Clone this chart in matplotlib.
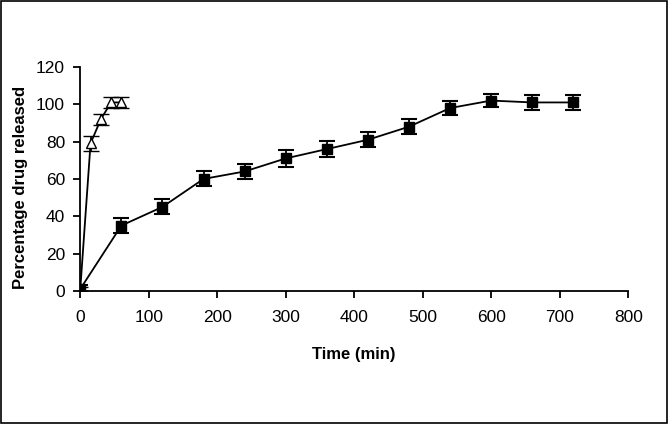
import numpy as np
import matplotlib
matplotlib.use("Agg")
import matplotlib.pyplot as plt
from matplotlib.patches import Rectangle

# square series (slow release)
time_sq = [0, 60, 120, 180, 240, 300, 360, 420, 480, 540, 600, 660, 720]
release_sq = [1, 35, 45, 60, 64, 71, 76, 81, 88, 98, 102, 101, 101]
err_sq = [2, 4, 4, 4, 4, 4.5, 4.5, 4, 4, 4, 3.5, 4, 4]

# triangle series (fast release)
time_tr = [0, 15, 30, 45, 60]
release_tr = [1, 79, 92, 101, 101]
err_tr = [1, 4, 3, 3, 3]

plt.rcParams['font.family'] = ['Liberation Sans', 'DejaVu Sans']

fig = plt.figure(figsize=(6.69, 4.24), dpi=100)
ax = fig.add_axes([0.12, 0.314, 0.819, 0.528])

ax.errorbar(time_tr, release_tr, yerr=err_tr, color='black', lw=1.3,
            marker='^', ms=7.5, mfc='white', mec='black', mew=1,
            capsize=5.5, elinewidth=1.3, capthick=1.5)
ax.errorbar(time_sq, release_sq, yerr=err_sq, color='black', lw=1.3,
            marker='s', ms=7, mfc='black', mec='black',
            capsize=5.5, elinewidth=1.3, capthick=1.5)

ax.set_xlim(0, 800)
ax.set_ylim(0, 120)
ax.set_xticks(np.arange(0, 801, 100))
ax.set_yticks(np.arange(0, 121, 20))
ax.spines['top'].set_visible(False)
ax.spines['right'].set_visible(False)
for s in ['left', 'bottom']:
    ax.spines[s].set_linewidth(1.3)
ax.tick_params(direction='out', length=5, width=1.3, labelsize=12.5)
ax.tick_params(axis='x', pad=9)
ax.tick_params(axis='y', pad=6)
ax.set_xlabel('Time (min)', fontsize=12, fontweight='bold')
ax.xaxis.set_label_coords(0.5, -0.25)
ax.set_ylabel('Percentage drug released', fontsize=12, fontweight='bold')
ax.yaxis.set_label_coords(-0.096, 0.46)

# frame around the whole picture
fig.patches.append(Rectangle((0.002, 0.003), 0.995, 0.994, transform=fig.transFigure,
                             fill=False, ec='black', lw=1.2))

fig.savefig('out.png', dpi=100)
